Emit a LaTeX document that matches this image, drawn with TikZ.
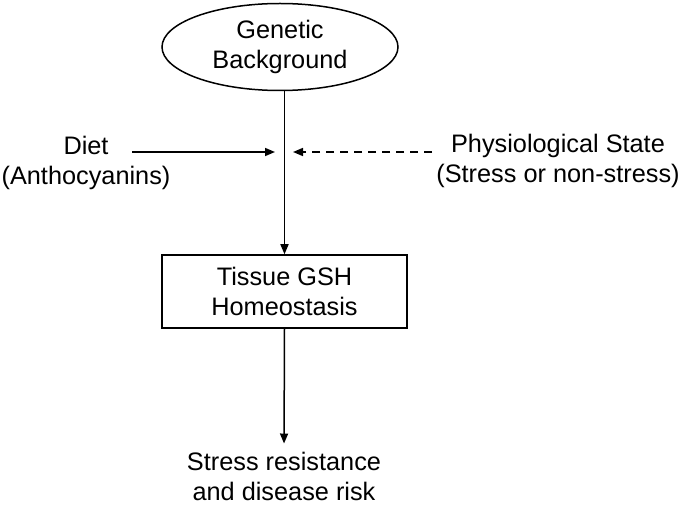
\documentclass[tikz,border=0pt]{standalone}
\usepackage{fontspec}
\setmainfont{Liberation Sans}
\usetikzlibrary{shapes.geometric, arrows.meta, positioning}

\begin{document}
\begin{tikzpicture}[x=1pt,y=-1pt,
  every node/.style={font=\fontsize{25.3}{30}\selectfont, align=center},
  flow/.style={line width=1.5pt, -{Triangle[length=10pt,width=8pt]}},
  ]
\useasboundingbox (0,0) rectangle (683,505);

\node[ellipse,draw,line width=1.5pt,minimum width=236pt,minimum height=87pt](gen) at (280,47) {Genetic\\Background};
\node[rectangle,draw,line width=1.5pt,minimum width=245pt,minimum height=73pt](tissue) at (284.5,291.5) {Tissue GSH\\Homeostasis};
\node[inner sep=1pt](risk) at (284,476) {Stress resistance\\and disease risk};
\node(diet) at (86,163) {Diet\\(Anthocyanins)};
\node(phys) at (558,161) {Physiological State\\(Stress or non-stress)};

\coordinate (dietstart) at (132,152);
\coordinate (dietend) at (275,152);
\coordinate (physstart) at (432,152);
\coordinate (physend) at (293,152);

\draw	(gen.south -| tissue.north) edge[flow] (tissue.north)
		(tissue.south) edge[flow,shorten >=7pt] (risk.north)
		(dietstart) edge[flow] (dietend)
		(physstart) edge[flow,dash pattern=on 8pt off 6pt] (physend)
		;

\end{tikzpicture}
\end{document}
